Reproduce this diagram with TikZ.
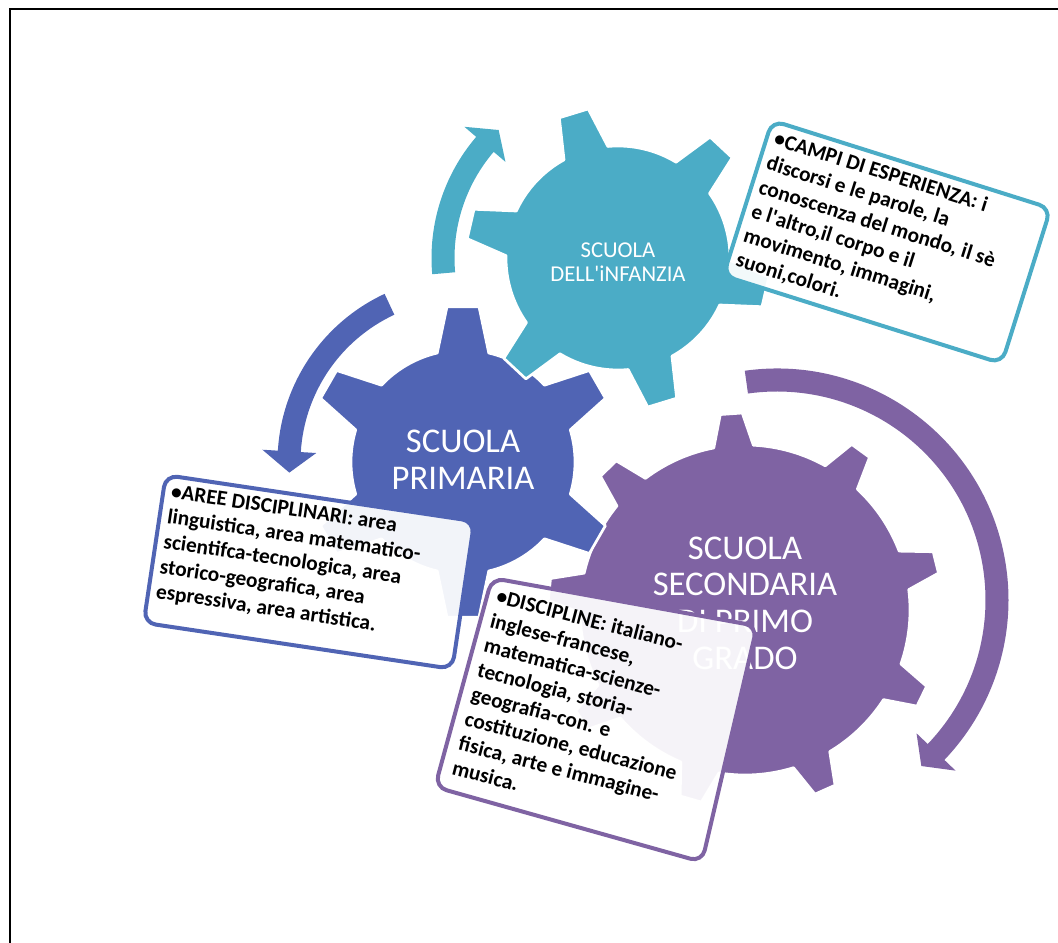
\documentclass[tikz,border=0pt]{standalone}
\usepackage{fontspec}
\setmainfont{Carlito}

\definecolor{infcol}{HTML}{4BACC6}
\definecolor{pricol}{HTML}{5064B4}
\definecolor{seccol}{HTML}{7F63A3}

% gear: centre, inner r, outer r, teeth, first tooth angle, base half angle, tip half angle, colour
\newcommand{\gearwheel}[8]{%
  \filldraw[fill=#8, draw=white, line width=2pt, line join=round, shift={(#1)}] ({#5-#6}:#2)
    \foreach \k [evaluate=\k as \ang using {#5+360/#4*(\k-1)}] in {1,...,#4}{
      -- ({\ang-#6}:#2) -- ({\ang-#7}:#3) -- ({\ang+#7}:#3) -- ({\ang+#6}:#2)
      arc[start angle={\ang+#6}, end angle={\ang+360/#4-#6}, radius=#2]
    } -- cycle;}

% curved arrow: centre, radius, start angle, head base angle, tip angle, colour
\newcommand{\turnarrow}[6]{%
  \fill[#6, shift={(#1)}] ({#3}:{#2+11.5}) arc[start angle=#3, end angle=#4, radius=#2+11.5]
    -- ({#4}:{#2+27}) -- ({#5}:{#2}) -- ({#4}:{#2-27}) -- ({#4}:{#2-11.5})
    arc[start angle=#4, end angle=#3, radius=#2-11.5] -- cycle;}

\begin{document}
\begin{tikzpicture}
    [x=0.75pt, y=0.75pt,
     gearlabel/.style={text=white, align=center, inner sep=0pt},
     panel/.style={rounded corners=9pt, line width=3pt, fill=white, fill opacity=0.93, text opacity=1},
     infobox/.style={panel, rectangle, inner sep=6pt, font=\fontsize{16}{19}\selectfont\bfseries},
     boxtext/.style={inner sep=0pt, align=left, font=\fontsize{16}{19}\selectfont\bfseries}]

    \useasboundingbox (0,0) rectangle (1058,943);
    \draw[line width=1.5pt] (1058,933.5) -- (9.5,933.5) -- (9.5,0);

    \coordinate (infanzia) at (618,685);
    \coordinate (primaria) at (463,481);
    \coordinate (secondaria) at (745,333);

    % gears
    \gearwheel{secondaria}{165}{197}{9}{94}{6.9}{3.2}{seccol}
    \gearwheel{primaria}{112}{156}{6}{90}{13.3}{5.9}{pricol}
    \gearwheel{infanzia}{112}{152}{6}{47}{11.8}{5.7}{infcol}

    % arrows round the gears
    \turnarrow{infanzia}{175}{185}{139.5}{133}{infcol}
    \turnarrow{primaria}{174}{115}{176.5}{183.5}{pricol}
    \coordinate (secarc) at (777,343);
    \turnarrow{secarc}{220}{98}{-43.7}{-49}{seccol}

    \node[gearlabel, font=\fontsize{17}{17.5}\selectfont] (inflabel) at (618,681) {SCUOLA\\DELL\textquotesingle iNFANZIA};
    \node[gearlabel, font=\fontsize{26}{27.5}\selectfont] (prilabel) at (463,483) {SCUOLA\\PRIMARIA};
    \node[gearlabel, font=\fontsize{26}{27.5}\selectfont] (seclabel) at (745,340) {SCUOLA\\SECONDARIA\\DI PRIMO\\GRADO};

    % text boxes
    \node[infobox, draw=infcol, rotate=-17.5] (infbox) at (887,701) {\parbox[t][110pt][t]{207pt}{\raggedright
      \textbullet CAMPI DI ESPERIENZA: i\\
      discorsi e le parole, la\\
      conoscenza del mondo, il sè\\
      e l\textquotesingle altro,il corpo e il\\
      movimento, immagini,\\
      suoni,colori.}};
    \node[infobox, draw=pricol, rotate=-8.5] (pribox) at (309,371) {\parbox[t][100pt][t]{222pt}{\raggedright
      \textbullet AREE DISCIPLINARI: area\\
      linguistica, area matematico-\\
      scientifca-tecnologica, area\\
      storico-geografica, area\\
      espressiva, area artistica.}};
    \draw[panel, draw=seccol] (492,365) -- (757,317) -- (702,81) -- (435,156) -- cycle;
    \node[boxtext, rotate=-14.5, anchor=north west] (sectext) at (499,355) {%
      \textbullet DISCIPLINE: italiano-\\
      inglese-francese,\\
      matematica-scienze-\\
      tecnologia, storia-\\
      geografia-con. e\\
      costituzione, educazione\\
      fisica, arte e immagine-\\
      musica.};
\end{tikzpicture}
\end{document}
